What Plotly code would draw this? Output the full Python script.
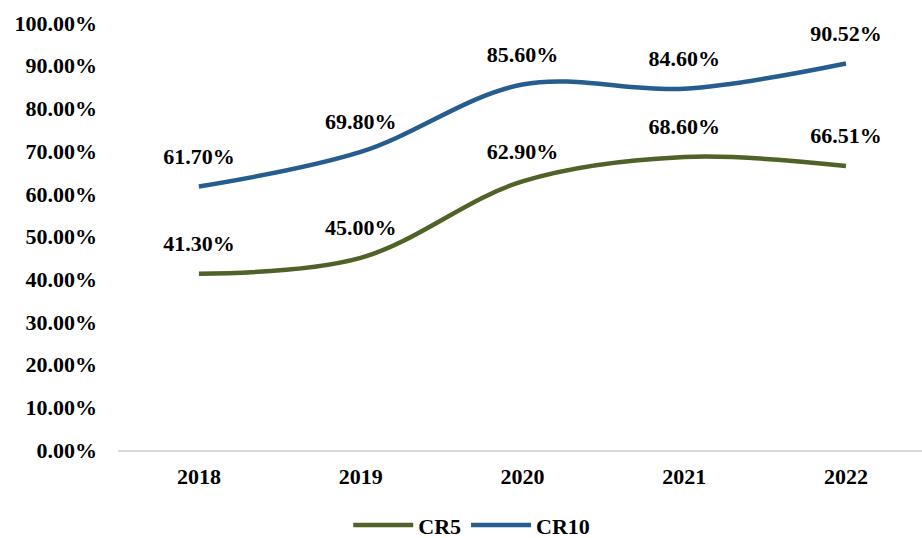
import plotly.graph_objects as go

years = ["2018", "2019", "2020", "2021", "2022"]
cr5 = [41.30, 45.00, 62.90, 68.60, 66.51]
cr10 = [61.70, 69.80, 85.60, 84.60, 90.52]

FONT = "Liberation Serif, Times New Roman, serif"
bold = dict(family=FONT, size=22, color="black", weight="bold")

fig = go.Figure()
for name, vals, color in [("CR5", cr5, "#4F6228"), ("CR10", cr10, "#255D8E")]:
    fig.add_trace(go.Scatter(
        x=years, y=vals, name=name, mode="lines",
        line=dict(color=color, width=4.5, shape="spline", smoothing=1),
    ))
    # data labels sit above the points; invisible markers set the offset
    fig.add_trace(go.Scatter(
        x=years, y=vals, mode="markers+text", showlegend=False, hoverinfo="skip",
        marker=dict(size=26, opacity=0),
        text=[f"{v:.2f}%" for v in vals], textposition="top center",
        textfont=bold, cliponaxis=False,
    ))

fig.update_layout(
    width=922, height=538,
    margin=dict(l=118, r=0, t=23, b=88, autoexpand=False),
    plot_bgcolor="white", paper_bgcolor="white",
    font=bold,
    showlegend=True,
    legend=dict(orientation="h", x=0.44, xanchor="center", y=-0.176, yanchor="middle",
                font=bold, itemwidth=60),
)
fig.update_xaxes(type="category", range=[-0.5, 4.47], showgrid=False, automargin=False,
                 showline=True, linecolor="#d9d9d9", linewidth=2, ticks="",
                 ticklabelstandoff=6, tickfont=bold)
fig.update_yaxes(range=[0, 100], dtick=10, showgrid=False, zeroline=False, automargin=False,
                 tickformat=".2f", ticksuffix="%", ticks="", ticklabelstandoff=20,
                 tickfont=bold)

fig.write_html("out.html", config={"displayModeBar": False},
               post_script="document.body.style.margin='0';")
